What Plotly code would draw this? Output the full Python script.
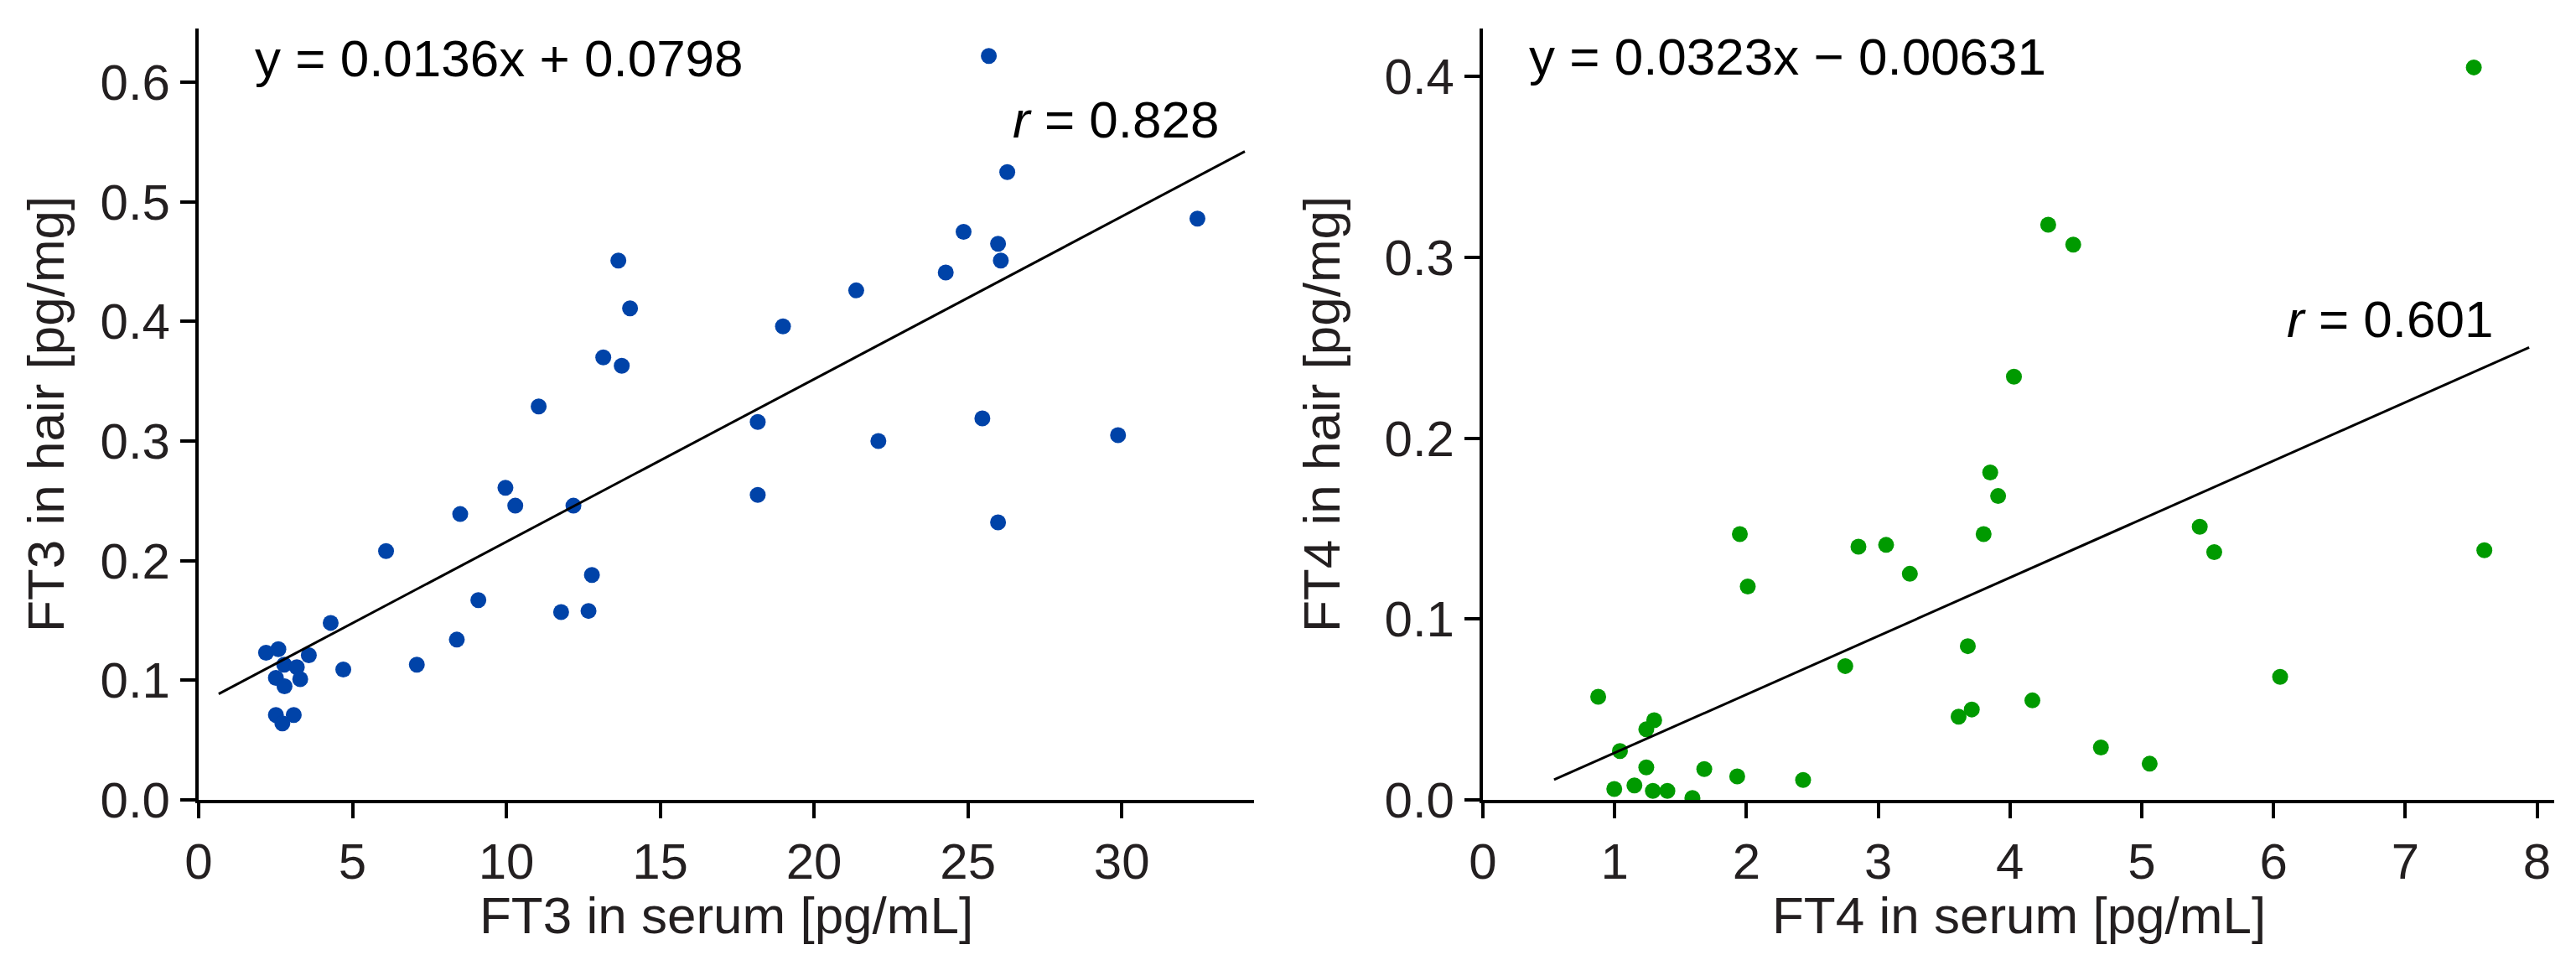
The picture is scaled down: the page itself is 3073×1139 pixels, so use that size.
import plotly.graph_objects as go

# ---- data ----
ft3_serum = [2.19, 2.59, 3.58, 2.78, 3.19, 4.70, 7.09, 2.51, 3.30, 2.79, 2.51, 3.09, 2.72,
             4.29, 8.39, 9.09, 11.78, 12.67, 12.78, 6.09, 8.50, 9.97, 10.29, 12.18, 11.05,
             13.15, 13.75, 13.64, 14.02, 18.17, 18.17, 18.99, 21.37, 22.09, 24.28, 24.86,
             25.47, 25.68, 25.98, 26.07, 25.98, 26.28, 29.88, 32.46]
ft3_hair = [0.123, 0.126, 0.121, 0.113, 0.111, 0.109, 0.113, 0.102, 0.101, 0.095, 0.071, 0.071, 0.064,
            0.148, 0.134, 0.167, 0.157, 0.158, 0.188, 0.208, 0.239, 0.261, 0.246, 0.246, 0.329,
            0.370, 0.363, 0.451, 0.411, 0.316, 0.255, 0.396, 0.426, 0.300, 0.441, 0.475,
            0.319, 0.622, 0.465, 0.451, 0.232, 0.525, 0.305, 0.486]

ft4_serum = [0.875, 0.997, 1.04, 1.15, 1.24, 1.24, 1.30, 1.29, 1.40, 1.59, 1.68, 1.93,
             1.95, 2.01, 2.43, 2.75, 2.85, 3.06, 3.24, 3.61, 3.68, 3.71, 3.80, 3.85,
             3.91, 4.03, 4.17, 4.29, 4.48, 4.69, 5.06, 5.44, 5.55, 6.05, 7.52, 7.60]
ft4_hair = [0.057, 0.006, 0.027, 0.008, 0.039, 0.018, 0.044, 0.005, 0.005, 0.001, 0.017, 0.013,
            0.147, 0.118, 0.011, 0.074, 0.140, 0.141, 0.125, 0.046, 0.085, 0.050, 0.147, 0.181,
            0.168, 0.234, 0.055, 0.318, 0.307, 0.029, 0.020, 0.151, 0.137, 0.068, 0.405, 0.138]

# regression fits printed on the chart
ft3_fit = (0.0136, 0.0798)
ft4_fit = (0.0323, -0.00631)
ft3_r = 0.828
ft4_r = 0.601
ft3_line_x = [0.65, 34.0]
ft4_line_x = [0.54, 7.94]

ft3_yticks = [0.0, 0.1, 0.2, 0.3, 0.4, 0.5, 0.6]
ft4_yticks = [0.0, 0.1, 0.2, 0.3, 0.4]
ft3_xticks = [0, 5, 10, 15, 20, 25, 30]
ft4_xticks = [0, 1, 2, 3, 4, 5, 6, 7, 8]

# ---- styling ----
FONT = 'Liberation Sans, Arial, sans-serif'
TXT = '#231f20'
BLUE = '#0043a8'
GREEN = '#009a00'
W, H = 3073, 1139

fig = go.Figure()

fig.add_trace(go.Scatter(x=ft3_serum, y=ft3_hair, mode='markers',
                         marker=dict(color=BLUE, size=19), xaxis='x', yaxis='y'))
fig.add_trace(go.Scatter(x=ft3_line_x, y=[ft3_fit[0] * v + ft3_fit[1] for v in ft3_line_x],
                         mode='lines', line=dict(color='black', width=3), xaxis='x', yaxis='y'))
fig.add_trace(go.Scatter(x=ft4_serum, y=ft4_hair, mode='markers',
                         marker=dict(color=GREEN, size=19), xaxis='x2', yaxis='y2'))
fig.add_trace(go.Scatter(x=ft4_line_x, y=[ft4_fit[0] * v + ft4_fit[1] for v in ft4_line_x],
                         mode='lines', line=dict(color='black', width=3), xaxis='x2', yaxis='y2'))

axis_style = dict(showline=True, linecolor='black', linewidth=4, ticks='outside',
                  ticklen=18, tickwidth=4, tickcolor='black', showgrid=False, zeroline=False,
                  tickfont=dict(family=FONT, size=60, color=TXT), automargin=False)

ydom = [1 - 946 / H, 1 - 26 / H]
fig.update_layout(
    width=W, height=H, margin=dict(l=0, r=0, t=0, b=0),
    plot_bgcolor='white', paper_bgcolor='white', showlegend=False,
    font=dict(family=FONT, color=TXT),
    xaxis=dict(domain=[229 / W, 1488 / W], range=[0, 34.3], tickvals=ft3_xticks, anchor='y', **axis_style),
    yaxis=dict(domain=ydom, range=[0, 0.645], tickvals=ft3_yticks, tickformat='.1f', anchor='x', **axis_style),
    xaxis2=dict(domain=[1761 / W, 3039 / W], range=[0, 8.13], tickvals=ft4_xticks, anchor='y2', **axis_style),
    yaxis2=dict(domain=ydom, range=[0, 0.4265], tickvals=ft4_yticks, tickformat='.1f', anchor='x2', **axis_style),
)

ann_font = dict(family=FONT, size=62, color='black')
title_font = dict(family=FONT, size=62, color=TXT)
annotations = [
    dict(x=1.77, y=0.620, xref='x', yref='y', xanchor='left', yanchor='middle',
         text='y = %.4fx + %.4f' % ft3_fit, showarrow=False, font=ann_font),
    dict(x=33.2, y=0.569, xref='x', yref='y', xanchor='right', yanchor='middle',
         text='<i>r</i> = %.3f' % ft3_r, showarrow=False, font=ann_font),
    dict(x=0.34, y=0.411, xref='x2', yref='y2', xanchor='left', yanchor='middle',
         text='y = %.4fx \u2212 %.5f' % (ft4_fit[0], -ft4_fit[1]), showarrow=False, font=ann_font),
    dict(x=7.68, y=0.266, xref='x2', yref='y2', xanchor='right', yanchor='middle',
         text='<i>r</i> = %.3f' % ft4_r, showarrow=False, font=ann_font),
    # axis titles
    dict(x=0.5, y=1 - 1083 / H, xref='x domain', yref='paper', xanchor='center', yanchor='middle',
         text='FT3 in serum [pg/mL]', showarrow=False, font=title_font),
    dict(x=0.5, y=1 - 1083 / H, xref='x2 domain', yref='paper', xanchor='center', yanchor='middle',
         text='FT4 in serum [pg/mL]', showarrow=False, font=title_font),
    dict(x=46 / W, y=0.5, xref='paper', yref='y domain', xanchor='center', yanchor='middle',
         text='FT3 in hair [pg/mg]', textangle=-90, showarrow=False, font=title_font),
    dict(x=1568 / W, y=0.5, xref='paper', yref='y2 domain', xanchor='center', yanchor='middle',
         text='FT4 in hair [pg/mg]', textangle=-90, showarrow=False, font=title_font),
]
fig.update_layout(annotations=annotations)

fig.write_html('out.html')
